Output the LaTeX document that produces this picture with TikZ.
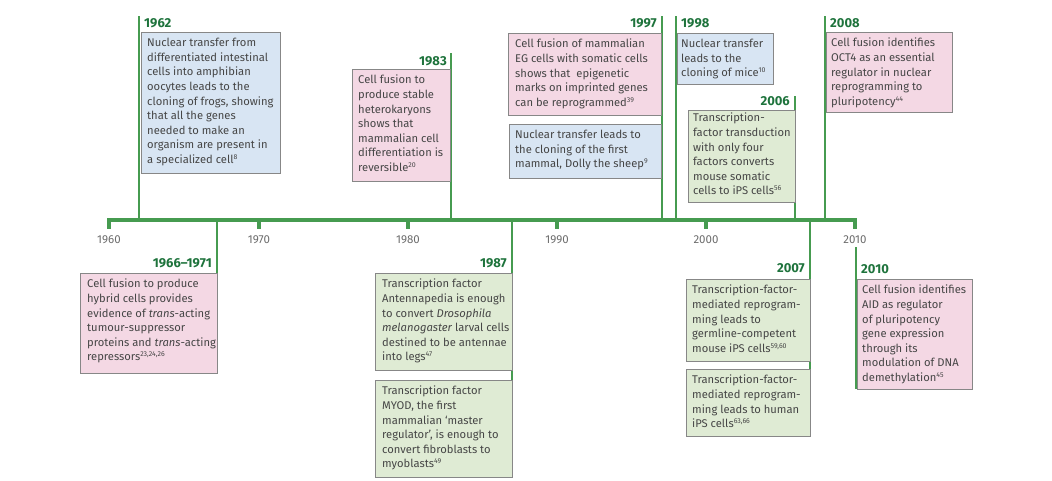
\documentclass[tikz,border=0pt]{standalone}
\usepackage{fontspec}
\setmainfont{Fira Sans}
\usetikzlibrary{calc}
\definecolor{gline}{RGB}{70,155,80}
\definecolor{gyear}{RGB}{30,115,60}
\definecolor{bfill}{RGB}{216,229,243}
\definecolor{pfill}{RGB}{244,216,228}
\definecolor{gfill}{RGB}{223,235,212}
\definecolor{bord}{RGB}{135,135,135}
\definecolor{txtc}{RGB}{70,70,70}
\newcommand{\sps}[1]{\textsuperscript{\scriptsize #1}}
\tikzset{
 evbox/.style={draw=bord,line width=0.9pt,anchor=north west,inner sep=0pt},
 bbox/.style={evbox,fill=bfill},
 pbox/.style={evbox,fill=pfill},
 gbox/.style={evbox,fill=gfill},
 txt/.style={anchor=north west,align=left,inner sep=0pt,text=txtc,font=\fontsize{11.2}{14.6}\selectfont},
 yr/.style={text=gyear,font=\fontsize{13}{14}\selectfont\bfseries,inner sep=0pt},
 axl/.style={text=gray!85!black,font=\fontsize{11.5}{13}\selectfont,inner sep=0pt},
 tl/.style={draw=gline,line width=4pt},
 el/.style={draw=gline,line width=2pt}
}
\newcommand{\evt}[6]{%
 \node[#2,minimum width=#5pt,minimum height=#6pt] (#1) at (#3,#4) {};}
\begin{document}
\begin{tikzpicture}[x=1pt,y=-1pt]
\useasboundingbox (0,0) rectangle (1052,480);
% timeline
\coordinate (L) at (107,220); \coordinate (R) at (857,220);
\draw[tl] (L) -- (R);
\foreach \yy/\xx in {1960/109,1970/259,1980/408,1990/557,2000/706,2010/855}{
 \coordinate (t\yy) at (\xx,220);
 \draw[draw=gline,line width=4pt] (t\yy) -- ++(0,9);
 \node[axl] (a\yy) at (\xx,240) {\yy};
}
% event lines
\coordinate (e62t) at (139,16); \coordinate (e62b) at (139,220);
\coordinate (e83t) at (451,53); \coordinate (e83b) at (451,220);
\coordinate (e97t) at (662,16); \coordinate (e97b) at (662,220);
\coordinate (e98t) at (676,16); \coordinate (e98b) at (676,220);
\coordinate (e06t) at (795,96); \coordinate (e06b) at (795,220);
\coordinate (e08t) at (825,16); \coordinate (e08b) at (825,220);
\coordinate (e66t) at (217,220); \coordinate (e66b) at (217,373);
\coordinate (e87t) at (512,220); \coordinate (e87b) at (512,477);
\coordinate (e07t) at (810,220); \coordinate (e07b) at (810,436);
\coordinate (e10t) at (856,247); \coordinate (e10b) at (856,389);
\foreach \e in {e62,e83,e97,e98,e06,e08,e66,e87,e07,e10}{\draw[el] (\e t) -- (\e b);}
% year labels
\node[yr,anchor=west] (y62) at (144,23) {1962};
\node[yr,anchor=east] (y83) at (447,61) {1983};
\node[yr,anchor=east] (y97) at (657,23) {1997};
\node[yr,anchor=west] (y98) at (681,23) {1998};
\node[yr,anchor=east] (y06) at (790,101) {2006};
\node[yr,anchor=west] (y08) at (830,23) {2008};
\node[yr,anchor=east] (y66) at (212,263) {1966–1971};
\node[yr,anchor=east] (y87) at (507,263) {1987};
\node[yr,anchor=east] (y07) at (805,268) {2007};
\node[yr,anchor=west] (y10) at (861,269) {2010};
% boxes
\evt{b62}{bbox}{141}{32}{139}{141}
\node[txt] (t62) at ($(b62.north west)+(6,6)$) {Nuclear transfer from\\differentiated intestinal\\cells into amphibian\\oocytes leads to the\\cloning of frogs, showing\\that all the genes\\needed to make an\\organism are present in\\a specialized cell\sps{8}};
\evt{b83}{pbox}{352}{69}{98}{112}
\node[txt] (t83) at ($(b83.north west)+(6,6)$) {Cell fusion to\\produce stable\\heterokaryons\\shows that\\mammalian cell\\differentiation is\\reversible\sps{20}};
\evt{b97a}{pbox}{508}{33}{153}{82}
\node[txt] (t97a) at ($(b97a.north west)+(7,6)$) {Cell fusion of mammalian\\EG cells with somatic cells\\shows that \ epigenetic\\marks on imprinted genes\\can be reprogrammed\sps{39}};
\evt{b97b}{bbox}{509}{124}{152}{54}
\node[txt] (t97b) at ($(b97b.north west)+(6,6)$) {Nuclear transfer leads to\\the cloning of the first\\mammal, Dolly the sheep\sps{9}};
\evt{b98}{bbox}{677}{33}{96}{51}
\node[txt] (t98) at ($(b98.north west)+(4,6)$) {Nuclear transfer\\leads to the\\cloning of mice\sps{10}};
\evt{b06}{gbox}{688}{110}{107}{92}
\node[txt] (t06) at ($(b06.north west)+(5,3)$) {Transcription-\\factor transduction\\with only four\\factors converts\\mouse somatic\\cells to iPS cells\sps{56}};
\evt{b08}{pbox}{826}{32}{126}{80}
\node[txt] (t08) at ($(b08.north west)+(5,6)$) {Cell fusion identifies\\OCT4 as an essential\\regulator in nuclear\\reprogramming to\\pluripotency\sps{44}};
\evt{b66}{pbox}{80}{273}{137}{100}
\node[txt] (t66) at ($(b66.north west)+(7,6)$) {Cell fusion to produce\\hybrid cells provides\\evidence of \textit{trans}-acting\\tumour-suppressor\\proteins and \textit{trans}-acting\\repressors\sps{23,24,26}};
\evt{b87a}{gbox}{375}{273}{137}{97}
\node[txt] (t87a) at ($(b87a.north west)+(7,6)$) {Transcription factor\\Antennapedia is enough\\to convert \textit{Drosophila}\\\textit{melanogaster} larval cells\\destined to be antennae\\into legs\sps{47}};
\evt{b87b}{gbox}{375}{380}{137}{97}
\node[txt] (t87b) at ($(b87b.north west)+(7,6)$) {Transcription factor\\MYOD, the first\\mammalian ‘master\\regulator’, is enough to\\convert fibroblasts to\\myoblasts\sps{49}};
\evt{b07a}{gbox}{686}{279}{124}{82}
\node[txt] (t07a) at ($(b07a.north west)+(6,6)$) {Transcription-factor-\\mediated reprogram-\\ming leads to\\germline-competent\\mouse iPS cells\sps{59,60}};
\evt{b07b}{gbox}{686}{369}{124}{67}
\node[txt] (t07b) at ($(b07b.north west)+(6,6)$) {Transcription-factor-\\mediated reprogram-\\ming leads to human\\iPS cells\sps{63,66}};
\evt{b10}{pbox}{857}{279}{115}{110}
\node[txt] (t10) at ($(b10.north west)+(5,6)$) {Cell fusion identifies\\AID as regulator\\of pluripotency\\gene expression\\through its\\modulation of DNA\\demethylation\sps{45}};
\end{tikzpicture}
\end{document}
